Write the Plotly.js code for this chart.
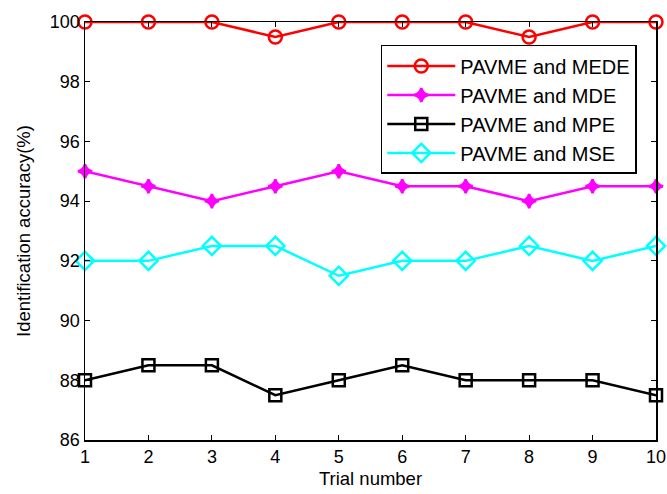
<!DOCTYPE html>
<html>
<head>
<meta charset="utf-8">
<script src="https://cdn.plot.ly/plotly-3.0.1.min.js"></script>
<style>
  html, body { margin: 0; padding: 0; background: #fff; }
  #chart { width: 667px; height: 494px; }
</style>
</head>
<body>
<div id="chart"></div>
<script>
// Identification accuracy over ten trials, for each PAVME pairing
const trials = [1, 2, 3, 4, 5, 6, 7, 8, 9, 10];
const mede = [100, 100, 100, 99.5, 100, 100, 100, 99.5, 100, 100];
const mde  = [95, 94.5, 94, 94.5, 95, 94.5, 94.5, 94, 94.5, 94.5];
const mpe  = [88, 88.5, 88.5, 87.5, 88, 88.5, 88, 88, 88, 87.5];
const mse  = [92, 92, 92.5, 92.5, 91.5, 92, 92, 92.5, 92, 92.5];
const seriesNames = ['PAVME and MEDE', 'PAVME and MDE', 'PAVME and MPE', 'PAVME and MSE'];
const yTicks = [86, 88, 90, 92, 94, 96, 98, 100];

const FONT = 'Liberation Sans, Arial, sans-serif';

function series(y, name, color, symbol, size) {
  return {
    x: trials, y: y, name: name, legendgroup: name,
    type: 'scatter', mode: 'lines+markers',
    cliponaxis: false,
    line: { color: color, width: 2.5 },
    marker: {
      symbol: symbol, size: size, color: color,
      line: { color: color, width: 2.5 }
    }
  };
}

const data = [
  series(mede, seriesNames[0], '#ff0000', 'circle-open', 13),
  series(mde,  seriesNames[1], '#ff00ff', 'star-diamond', 10),
  series(mpe,  seriesNames[2], '#000000', 'square-open', 12),
  series(mse,  seriesNames[3], '#00ffff', 'diamond-open', 14)
];

const axisCommon = {
  showline: true, linecolor: '#000', linewidth: 1.5,
  mirror: 'allticks', ticks: 'inside', ticklen: 5, tickcolor: '#000', tickwidth: 1,
  showgrid: false, zeroline: false,
  tickfont: { family: FONT, size: 18, color: '#000' }
};

const layout = {
  width: 667, height: 494,
  margin: { l: 85, r: 11, t: 22, b: 54 },
  paper_bgcolor: '#fff', plot_bgcolor: '#fff',
  showlegend: true,
  xaxis: Object.assign({}, axisCommon, {
    range: [1, 10], tickvals: trials,
    title: { text: 'Trial number', standoff: 6,
             font: { family: FONT, size: 18.5, color: '#000' } }
  }),
  yaxis: Object.assign({}, axisCommon, {
    range: [86, 100], tickvals: yTicks,
    title: { text: 'Identification accuracy(%)', standoff: 14,
             font: { family: FONT, size: 18.5, color: '#000' } }
  }),
  legend: {
    x: 0.518, y: 0.945, xanchor: 'left', yanchor: 'top',
    bgcolor: '#fff', bordercolor: '#000', borderwidth: 1.5,
    font: { family: FONT, size: 20, color: '#000' },
    tracegroupgap: 0, itemwidth: 68
  }
};

Plotly.newPlot('chart', data, layout, { displayModeBar: false, staticPlot: true });
</script>
</body>
</html>
